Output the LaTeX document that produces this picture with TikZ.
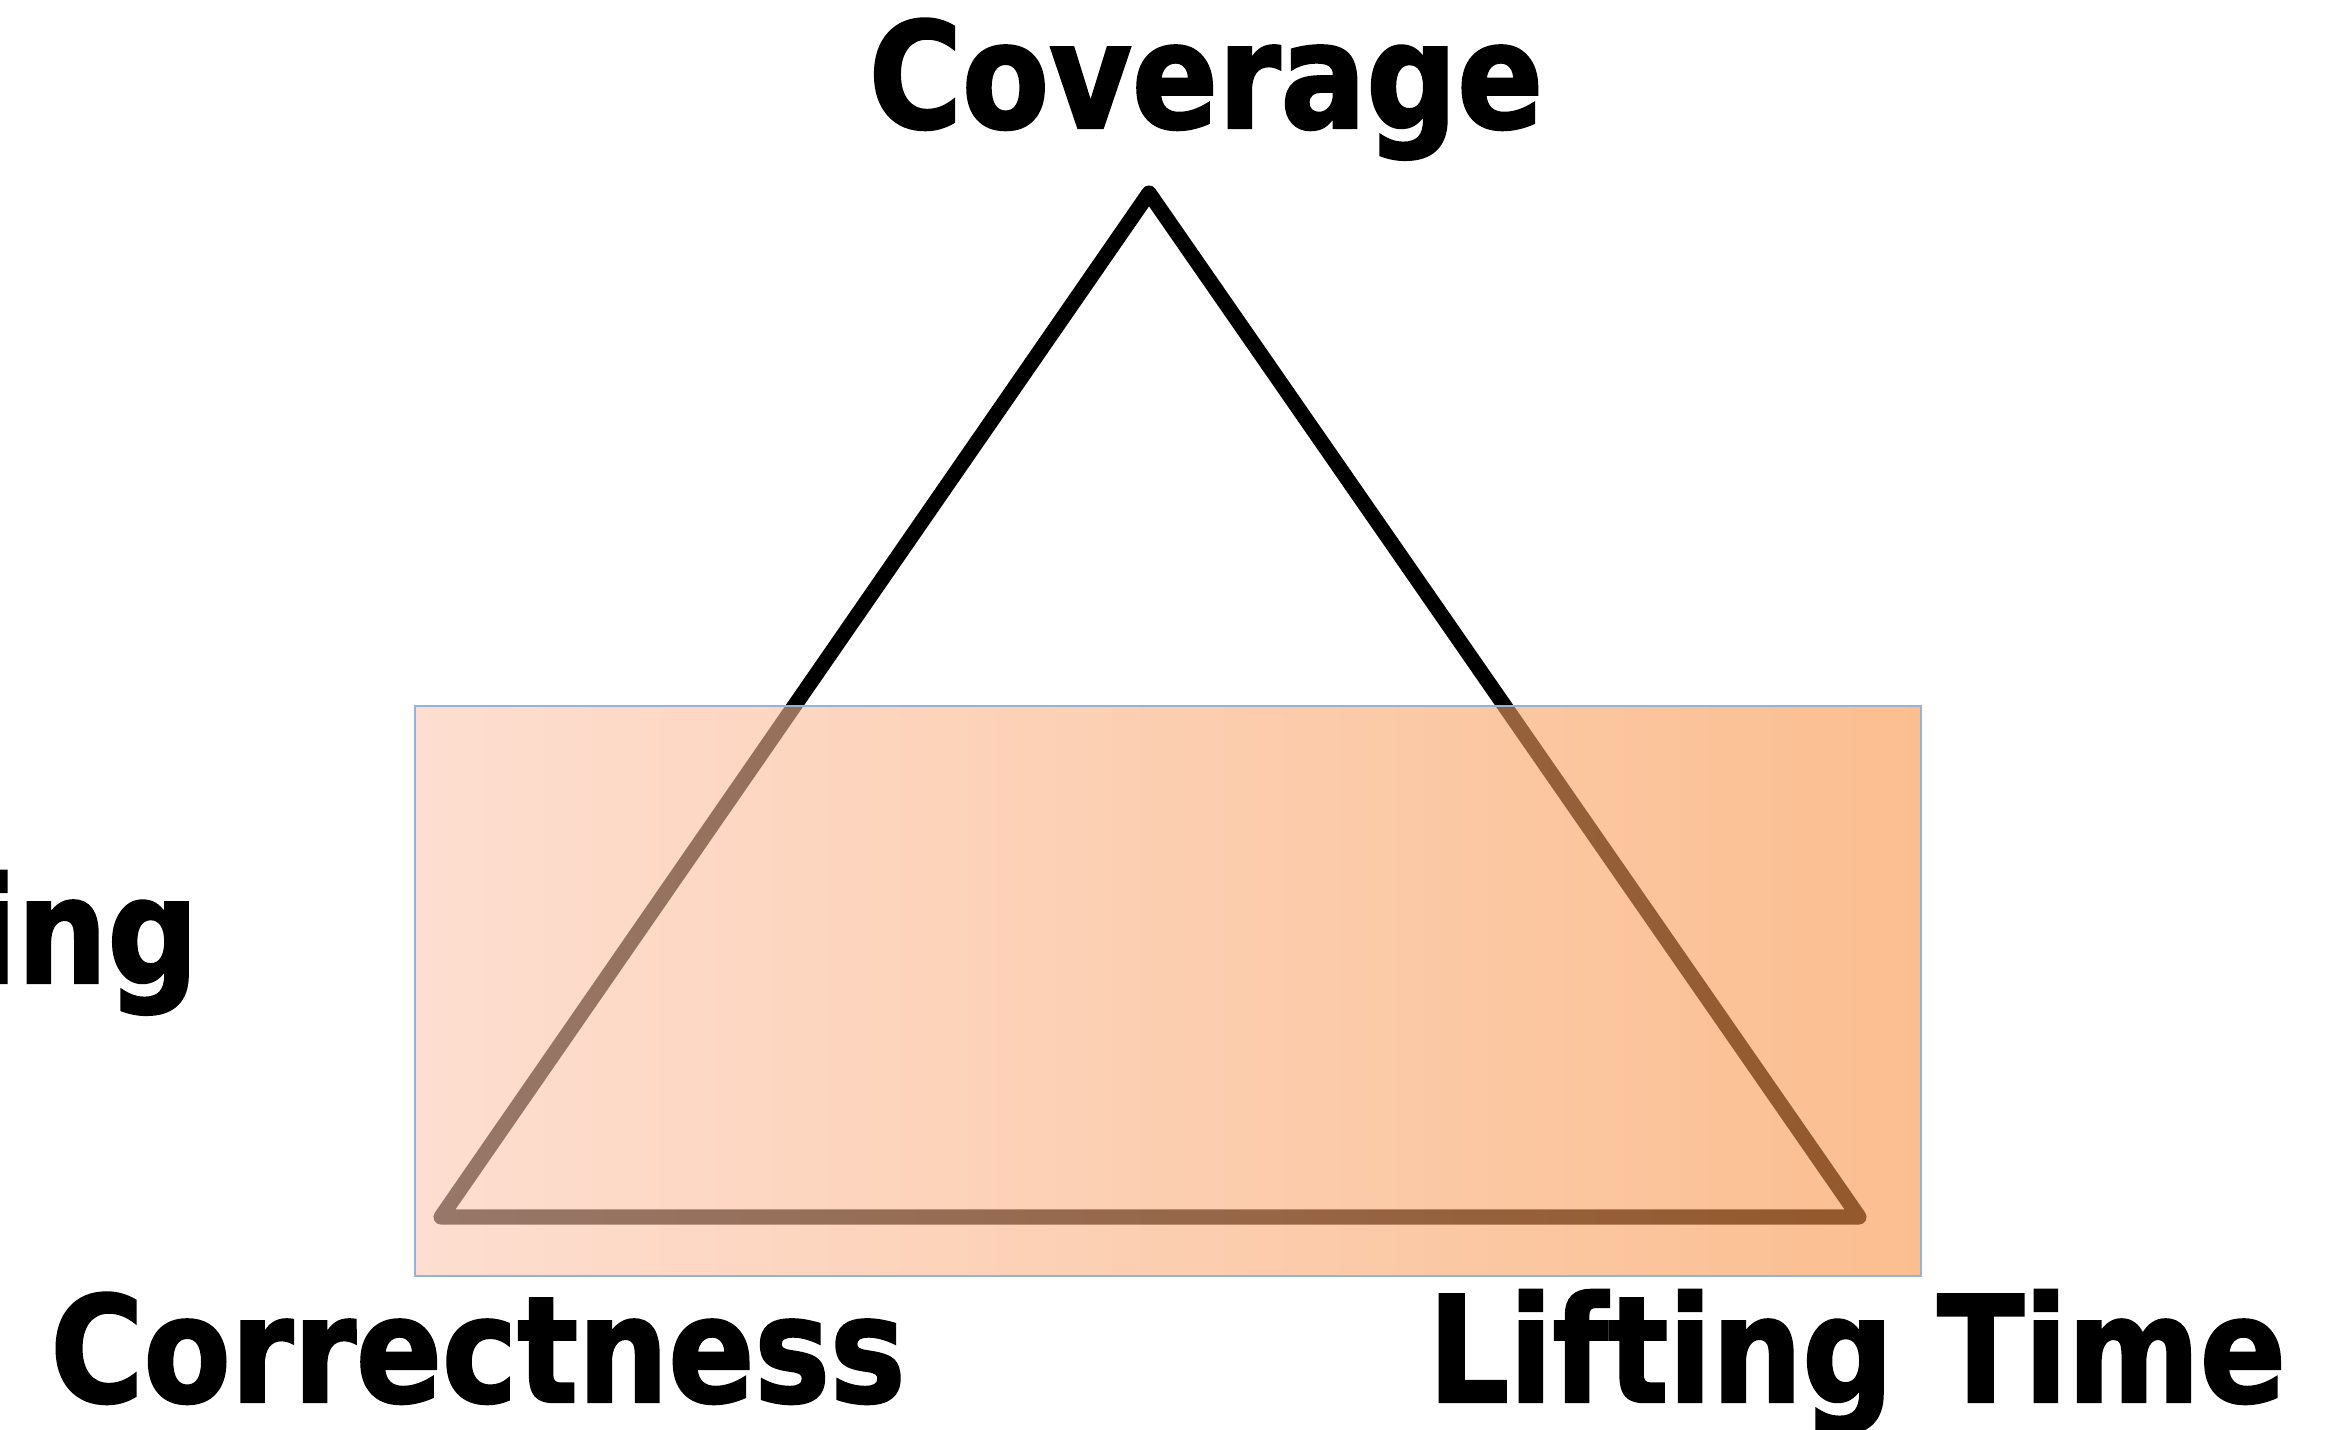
\documentclass[tikz,border=0pt]{standalone}
\usepackage{fontspec}
\newfontfamily\lblfont{DejaVu Sans Bold}[FakeStretch=0.86, FakeBold=1.6]
\usetikzlibrary{positioning}
\definecolor{bandLeft}{RGB}{252,200,177}
\definecolor{bandRight}{RGB}{248,147,70}
\definecolor{bandEdge}{RGB}{149,179,215}
\tikzset{
  corner/.style={font=\lblfont\fontsize{42}{50}\selectfont, inner sep=0pt},
  tri/.style={line width=4.3pt, line join=round, line cap=round},
  band/.style={shade, left color=bandLeft, right color=bandRight, fill opacity=0.6,
    draw=bandEdge, draw opacity=1, line width=0.6pt, inner sep=0pt},
}

\begin{document}
\begin{tikzpicture}[x=0.1mm, y=-0.1mm]
  \useasboundingbox (0,0) rectangle (2331,1429);
  \clip (0,0) rectangle (2331,1429);
  % triangle corners
  \coordinate (apex) at (1149,193);
  \coordinate (lbase) at (441,1217);
  \coordinate (rbase) at (1859,1217);
  \node[corner, anchor=base] (cov) at (1206,128) {Coverage};
  \node[corner, anchor=base] (cor) at (478,1402) {Correctness};
  \node[corner, anchor=base] (lift) at (1857,1402) {Lifting Time};
  \node[corner, anchor=base east] (ing) at (199,983) {ing};
  \draw[tri] (apex) -- (lbase) -- (rbase) -- cycle;
  % translucent band over the base
  \node[band, minimum width=150.6mm, minimum height=57mm] (zone) at (1168,991) {};
\end{tikzpicture}
\end{document}
